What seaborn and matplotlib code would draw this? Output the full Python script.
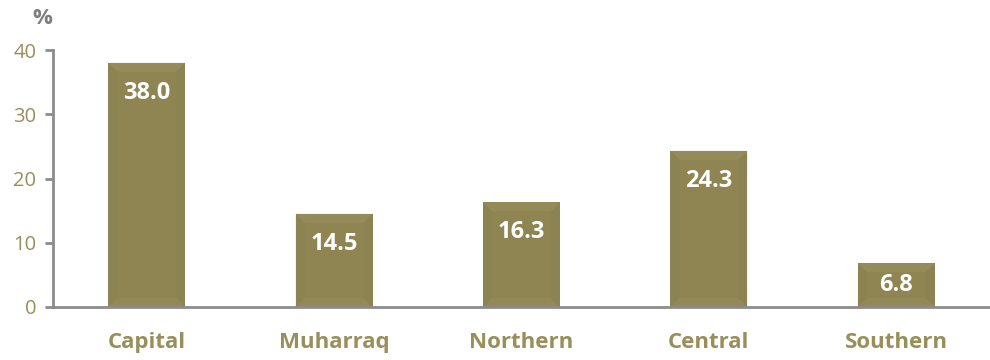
import matplotlib
matplotlib.use("Agg")
import matplotlib.pyplot as plt
from matplotlib.patches import Polygon
import seaborn as sns
import pandas as pd
import numpy as np

regions = ["Capital", "Muharraq", "Northern", "Central", "Southern"]
shares = [38.0, 14.5, 16.3, 24.3, 6.8]
y_ticks = [0, 10, 20, 30, 40]

BAR = "#8F8553"
LIGHT = "#9B915D"
DARK = "#888050"
TEXT = "#998F5B"
AXIS = "#8C8C8C"

sns.set_theme(style="white")
plt.rcParams["font.family"] = ["Open Sans", "DejaVu Sans"]

df = pd.DataFrame({"region": regions, "share": shares})

fig = plt.figure(figsize=(9.9, 3.6), dpi=100)
ax = fig.add_axes([53 / 990, 53 / 360, 937 / 990, 257 / 360])

sns.barplot(data=df, x="region", y="share", color=BAR, width=0.41,
            saturation=1, ax=ax, edgecolor="none", linewidth=0)

ax.set_xlim(-0.5, 4.451)
ax.set_ylim(0, 40)
ax.set_yticks(y_ticks)
ax.set_yticklabels([str(t) for t in y_ticks], color=TEXT, fontsize=14.5)
ax.set_xlabel("")
ax.set_ylabel("")
ax.tick_params(axis="x", which="major", length=0, pad=18)
for lab in ax.get_xticklabels():
    lab.set_color(TEXT)
    lab.set_fontsize(16)
    lab.set_fontweight("bold")

ax.set_xticks(np.arange(-0.5, 5.0, 1.0), minor=True)
ax.tick_params(axis="x", which="minor", length=6, width=2, color=AXIS, direction="out")
ax.tick_params(axis="y", which="major", length=6, width=2, color=AXIS, direction="out",
               left=True, pad=6)

for side in ["top", "right"]:
    ax.spines[side].set_visible(False)
for side in ["left", "bottom"]:
    ax.spines[side].set_color(AXIS)
    ax.spines[side].set_linewidth(2)

fig.canvas.draw()
to_px = ax.transData
from_px = ax.transData.inverted()

# soft bevel shading and value labels inside the bars
for patch, val in zip(ax.patches, shares):
    x0, w = patch.get_x(), patch.get_width()
    (px0, py0), (px1, py1) = to_px.transform([(x0, 0), (x0 + w, val)])
    b = min(9, (py1 - py0) / 3)
    faces = [
        ([(px0, py1), (px1, py1), (px1 - b, py1 - b), (px0 + b, py1 - b)], LIGHT, 0.5),
        ([(px0, py0), (px1, py0), (px1 - b, py0 + b), (px0 + b, py0 + b)], LIGHT, 0.35),
        ([(px0, py0), (px0, py1), (px0 + b, py1 - b), (px0 + b, py0 + b)], DARK, 0.3),
        ([(px1, py0), (px1, py1), (px1 - b, py1 - b), (px1 - b, py0 + b)], DARK, 0.3),
    ]
    for pts, col, a in faces:
        data_pts = from_px.transform(pts)
        ax.add_patch(Polygon(data_pts, closed=True, facecolor=col, edgecolor="none",
                             alpha=a, zorder=patch.get_zorder() + 0.1))
    off = min(30, (py1 - py0) / 2)
    ax.annotate(f"{val:.1f}", xy=(x0 + w / 2, val), xytext=(0, -off * 72 / fig.dpi),
                textcoords="offset points", ha="center", va="center",
                color="white", fontsize=17, fontweight="bold", zorder=5)

fig.text(42 / 990, 1 - 18 / 360, "%", color="#7F7F7F", fontsize=16,
         fontweight="bold", ha="center", va="center")

fig.savefig("out.png", dpi=100)
